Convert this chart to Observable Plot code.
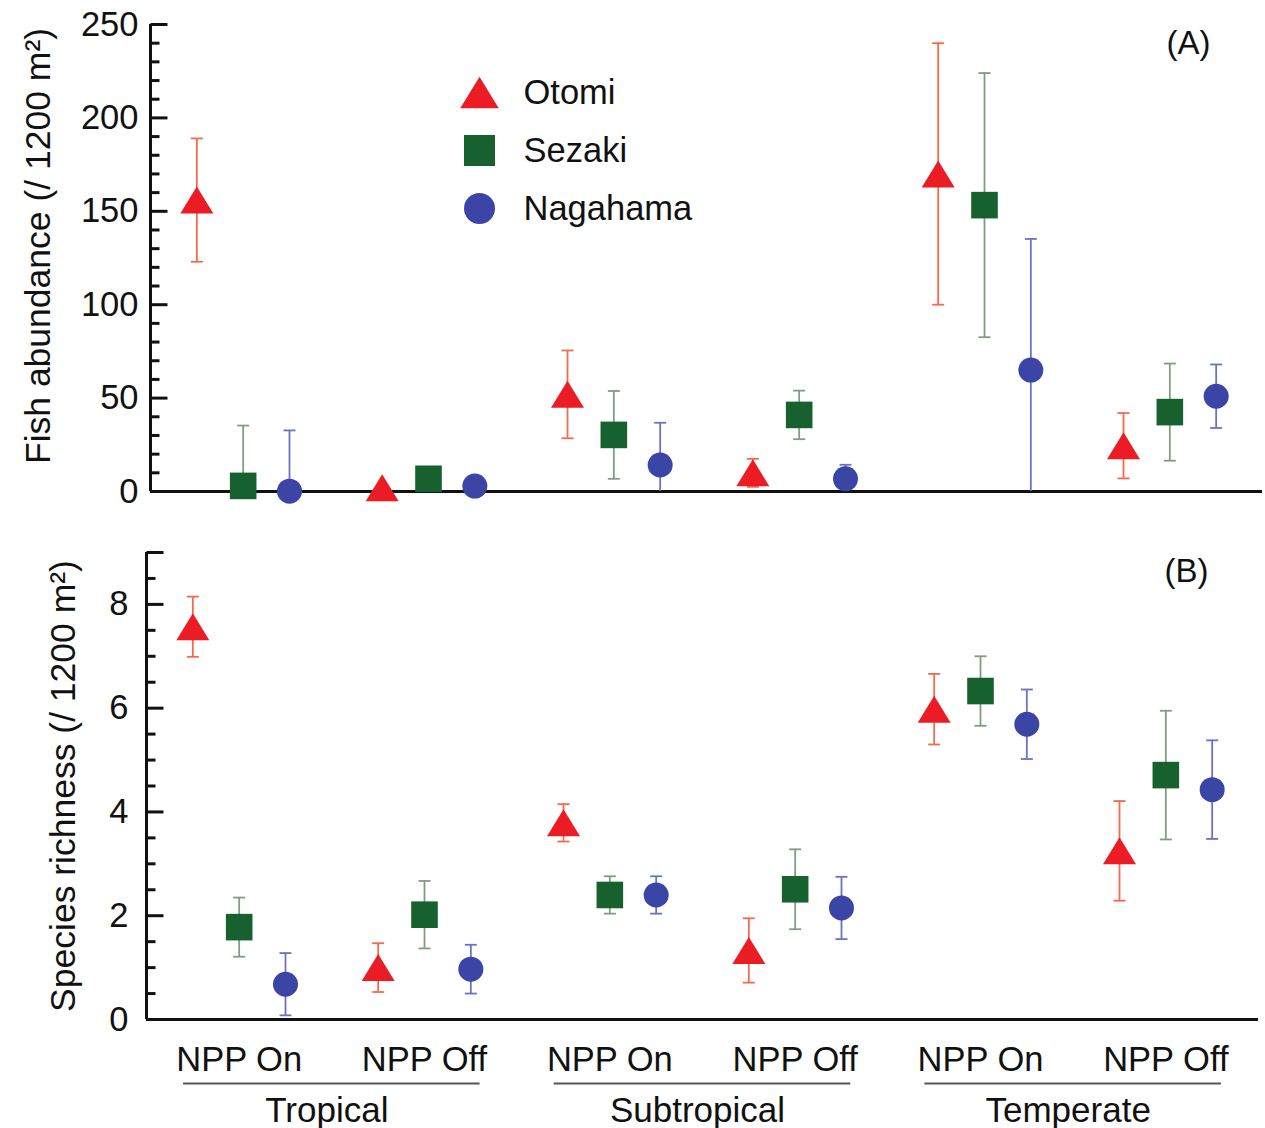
<!DOCTYPE html>
<html>
<head>
<meta charset="utf-8">
<script src="https://cdn.jsdelivr.net/npm/d3@7"></script>
<script src="https://cdn.jsdelivr.net/npm/@observablehq/plot@0.6"></script>
<style>
  body { margin: 0; background: #fff; }
  #wrap { position: relative; width: 1265px; height: 1128px; overflow: hidden; }
  #wrap svg { display: block; }
  #legend { position: absolute; left: 440px; top: 60px; }
</style>
</head>
<body>
<div id="wrap"><div id="legend"></div></div>
<script>
// ---------------- data ----------------
const regions = ["Tropical", "Subtropical", "Temperate"];
const conditions = ["NPP On", "NPP Off"];
const sites = ["Otomi", "Sezaki", "Nagahama"];

// value order: Tropical On, Tropical Off, Subtropical On, Subtropical Off, Temperate On, Temperate Off
const otomiAbundance      = [156, 2, 52, 10, 170, 24.5];
const otomiAbundanceSE    = [33, 1.5, 23.5, 7.5, 70, 17.5];
const sezakiAbundance     = [3, 6.8, 30.3, 41, 153.3, 42.5];
const sezakiAbundanceSE   = [32.3, 4, 23.5, 13, 70.7, 26];
const nagahamaAbundance   = [0.2, 2.9, 14.2, 6.8, 65, 51];
const nagahamaAbundanceSE = [32.5, 2, 22.6, 7.5, 70.2, 17];

const otomiRichness      = [7.57, 1.0, 3.79, 1.33, 5.98, 3.25];
const otomiRichnessSE    = [0.58, 0.47, 0.36, 0.62, 0.68, 0.96];
const sezakiRichness     = [1.78, 2.02, 2.40, 2.51, 6.33, 4.71];
const sezakiRichnessSE   = [0.57, 0.65, 0.36, 0.77, 0.67, 1.24];
const nagahamaRichness   = [0.68, 0.97, 2.40, 2.15, 5.69, 4.43];
const nagahamaRichnessSE = [0.60, 0.47, 0.36, 0.60, 0.67, 0.95];

const abundanceTicks = [0, 50, 100, 150, 200, 250];
const richnessTicks = [0, 2, 4, 6, 8];

const siteColors = ["#ec1c24", "#17612f", "#3a45a5"];
const barColors = ["#f36a4c", "#7f9e80", "#6b72c6"];

// ---------------- helpers ----------------
const FONT = "'Liberation Sans', Arial, Helvetica, sans-serif";
const groups = regions.flatMap((region, ri) =>
  conditions.map((condition, ci) => ({region, condition, ci, gi: ri * 2 + ci})));
const slotsPerGroup = sites.length + 1;
const xDomain = [-1, groups.length * slotsPerGroup - 1];

function series(si, means, ses) {
  return groups.map((g, k) => ({
    site: sites[si],
    pos: g.gi * slotsPerGroup + si,
    mean: means[k],
    lo: Math.max(0, means[k] - ses[k]),
    hi: means[k] + ses[k],
    loVisible: means[k] - ses[k] > 0
  }));
}

const triSym = {draw(ctx, size) { const r = Math.sqrt(size / Math.PI); const w = 1.375 * r, h = 1.125 * r;
  ctx.moveTo(0, -h); ctx.lineTo(w, h); ctx.lineTo(-w, h); ctx.closePath(); }};
const sqSym = {draw(ctx, size) { const r = Math.sqrt(size / Math.PI); ctx.rect(-r, -r, 2 * r, 2 * r); }};
const circSym = {draw(ctx, size) { const r = Math.sqrt(size / Math.PI); ctx.moveTo(r, 0); ctx.arc(0, 0, r, 0, 2 * Math.PI); }};
const capSym = {draw(ctx, size) { const r = Math.sqrt(size / Math.PI); ctx.moveTo(-r, 0); ctx.lineTo(r, 0); }};
const inTickSym = {draw(ctx, size) { const r = Math.sqrt(size / Math.PI); ctx.moveTo(0, 0); ctx.lineTo(r, 0); }};
const markerSyms = [triSym, sqSym, circSym];
const markerR = [12, 13.3, 12.5];

function seriesMarks(list) {
  const bars = [], dots = [];
  list.forEach((s, si) => {
    bars.push(Plot.ruleX(s, {x: "pos", y1: "lo", y2: "hi", stroke: barColors[si], strokeWidth: 1.8}));
    bars.push(Plot.dot(s, {x: "pos", y: "hi", symbol: capSym, r: 6, stroke: barColors[si], strokeWidth: 1.8, fill: "none"}));
    bars.push(Plot.dot(s.filter(d => d.loVisible), {x: "pos", y: "lo", symbol: capSym, r: 6, stroke: barColors[si], strokeWidth: 1.8, fill: "none"}));
    dots.push(Plot.dot(s, {x: "pos", y: "mean", symbol: markerSyms[si], r: markerR[si], fill: siteColors[si], stroke: "none"}));
  });
  return [...bars, ...dots];
}

function panel(o) {
  return Plot.plot({
    width: 1265, height: o.height,
    marginLeft: o.marginLeft, marginRight: o.marginRight, marginTop: o.marginTop, marginBottom: o.marginBottom,
    x: {domain: xDomain, axis: null},
    y: {domain: o.yDomain},
    style: {fontFamily: FONT, fontSize: "34px", color: "#111", background: "white", overflow: "visible"},
    marks: [
      Plot.axisY(o.major, {tickSize: 0, tickPadding: o.tickPadding, fontSize: 34.5, label: null,
        stroke: "none", tickFormat: d => String(d)}),
      Plot.dot(o.longTicks, {y: d => d, frameAnchor: "left", symbol: inTickSym, r: 17, stroke: "#111", strokeWidth: 3}),
      Plot.dot(o.minor, {y: d => d, frameAnchor: "left", symbol: inTickSym, r: 9, stroke: "#111", strokeWidth: 3}),
      Plot.ruleX([xDomain[0]], {strokeWidth: 3, stroke: "#111"}),
      Plot.ruleY([0], {strokeWidth: 3, stroke: "#111"}),
      Plot.text([o.yLabel], {text: d => d, frameAnchor: "left", rotate: -90, dx: o.labelDx, dy: o.labelDy,
        fontSize: 35.5, textAnchor: "middle", lineAnchor: "middle", fill: "#111"}),
      Plot.text([o.tag], {text: d => d, frameAnchor: "top-right", dx: o.tagDx, dy: 6, textAnchor: "end",
        lineAnchor: "top", fontSize: 33, fill: "#111"}),
      ...(o.extra || []),
      ...seriesMarks(o.series)
    ]
  });
}

function range(a, b, step) { const out = []; for (let v = a; v <= b + 1e-9; v += step) out.push(+v.toFixed(4)); return out; }

// ---------------- top panel ----------------
const abundanceSeries = [
  series(0, otomiAbundance, otomiAbundanceSE),
  series(1, sezakiAbundance, sezakiAbundanceSE),
  series(2, nagahamaAbundance, nagahamaAbundanceSE)
];
const topPlot = panel({
  height: 520, marginLeft: 150, marginRight: 3, marginTop: 24, marginBottom: 29,
  yDomain: [0, 250],
  major: abundanceTicks, longTicks: abundanceTicks,
  minor: range(0, 250, 10).filter(v => !abundanceTicks.includes(v)),
  tickPadding: 12,
  yLabel: "Fish abundance (/ 1200 m²)", labelDx: -112, labelDy: -12,
  tag: "(A)", tagDx: -52,
  series: abundanceSeries
});

// ---------------- bottom panel ----------------
const richnessSeries = [
  series(0, otomiRichness, otomiRichnessSE),
  series(1, sezakiRichness, sezakiRichnessSE),
  series(2, nagahamaRichness, nagahamaRichnessSE)
];
const regionRows = regions.map((region, ri) => ({
  region,
  center: ri * 2 * slotsPerGroup + (slotsPerGroup * 2 - 2) / 2,
}));
const bottomPlot = panel({
  height: 608, marginLeft: 146, marginRight: 7, marginTop: 32, marginBottom: 109,
  yDomain: [0, 9],
  major: richnessTicks, longTicks: [...richnessTicks, 9],
  minor: range(0, 9, 0.5).filter(v => !richnessTicks.includes(v) && v !== 9),
  tickPadding: 18,
  yLabel: "Species richness (/ 1200 m²)", labelDx: -83, labelDy: 0,
  tag: "(B)", tagDx: -50,
  series: richnessSeries,
  extra: [
    Plot.text(groups, {x: d => d.gi * slotsPerGroup + 1, text: "condition", frameAnchor: "bottom",
      lineAnchor: "top", dy: 27, fontSize: 34.5, fill: "#111"}),
    Plot.ruleY(regionRows, {y: () => 0, x1: d => d.center - 3.2, x2: d => d.center + 3.2, dy: 64,
      stroke: "#555", strokeWidth: 2}),
    Plot.text(regionRows, {x: "center", text: "region", frameAnchor: "bottom", lineAnchor: "top",
      dx: -5, dy: 78, fontSize: 35, fill: "#111"})
  ]
});

const wrap = document.getElementById("wrap");
wrap.insertBefore(bottomPlot, wrap.firstChild);
wrap.insertBefore(topPlot, wrap.firstChild);

// ---------------- legend ----------------
const legendSyms = [triSym, sqSym, circSym];
const legendR = [14, 15.5, 15.5];
const legend = Plot.plot({
  width: 280, height: 180, margin: 0,
  x: {domain: [0, 1], axis: null},
  y: {type: "point", domain: sites, range: [32, 148], padding: 0, axis: null},
  style: {fontFamily: FONT, color: "#111", background: "transparent", overflow: "visible"},
  marks: [
    ...sites.map((s, si) => Plot.dot([s], {y: d => d, frameAnchor: "left", dx: 39, symbol: legendSyms[si],
      r: legendR[si], fill: siteColors[si], stroke: "none"})),
    Plot.text(sites, {y: d => d, text: d => d, frameAnchor: "left", dx: 83, textAnchor: "start",
      fontSize: 34.5, fill: "#111"})
  ]
});
document.getElementById("legend").appendChild(legend);
</script>
</body>
</html>
